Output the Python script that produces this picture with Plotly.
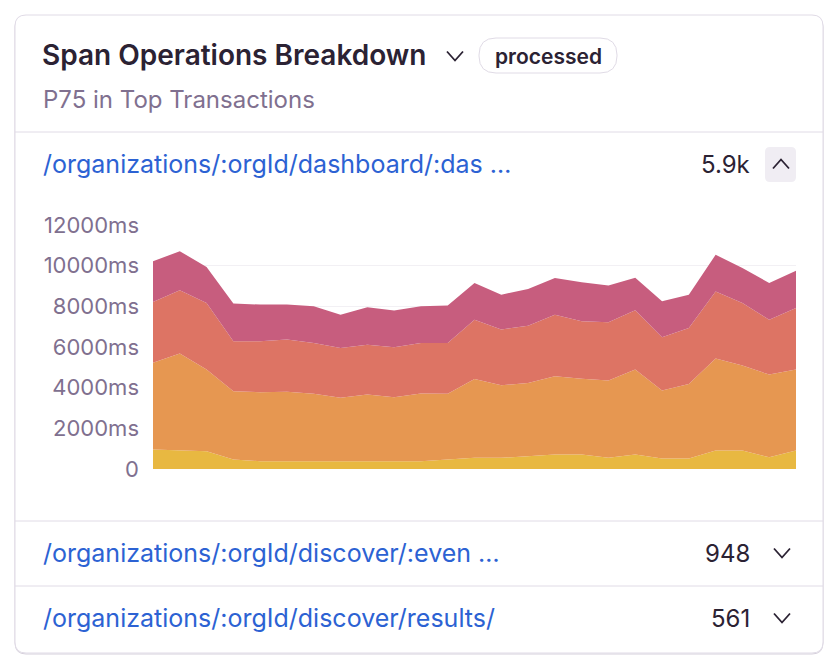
import plotly.graph_objects as go

# time buckets (x) and p75 span op durations in ms, stacked bottom -> top
buckets = list(range(25))
span_ops = ["p75(spans.browser)", "p75(spans.http)", "p75(spans.db)", "p75(spans.resource)"]
browser = [960, 910, 875, 470, 385, 385, 385, 385, 385, 385, 385, 465, 550,
           550, 630, 715, 715, 550, 715, 515, 515, 910, 910, 580, 910]
http = [4260, 4770, 4015, 3355, 3390, 3410, 3310, 3115, 3275, 3145, 3325, 3230, 3880,
        3570, 3605, 3845, 3720, 3800, 4175, 3340, 3670, 4520, 4175, 4065, 3980]
db = [2990, 3110, 3280, 2455, 2505, 2570, 2505, 2455, 2455, 2455, 2490, 2505, 2915,
      2735, 2815, 3030, 2830, 2865, 2915, 2620, 2750, 3305, 3080, 2700, 3030]
resource = [2005, 1920, 1770, 1855, 1805, 1720, 1800, 1635, 1835, 1805, 1800, 1835, 1805,
            1720, 1805, 1805, 1915, 1805, 1595, 1770, 1635, 1805, 1720, 1805, 1835]
series = [browser, http, db, resource]
colors = ["#e8b841", "#e69751", "#dd7464", "#c75d7e"]

y_ticks = [0, 2000, 4000, 6000, 8000, 10000, 12000]
y_ticktext = ["0"] + [f"{v}ms" for v in y_ticks[1:]]

rows = [
    ("/organizations/:orgId/dashboard/:das \u2026", "5.9k"),
    ("/organizations/:orgId/discover/:even \u2026", "948"),
    ("/organizations/:orgId/discover/results/", "561"),
]

FONT = "Inter"
DARK = "#2b2233"
GRAY = "#80708f"
BLUE = "#2c62d3"
BORDER = "#e0dbe6"

# plot area in pixels
L, R, T, B = 153, 796, 225, 469
W, H = R - L, B - T


def px(x):
    return (x - L) / W


def py(y):
    return (B - y) / H


def rrect(x0, y0, x1, y1, r):
    # rounded rectangle path in paper coords
    pts = [
        f"M {px(x0 + r)} {py(y0)}",
        f"L {px(x1 - r)} {py(y0)}",
        f"Q {px(x1)} {py(y0)} {px(x1)} {py(y0 + r)}",
        f"L {px(x1)} {py(y1 - r)}",
        f"Q {px(x1)} {py(y1)} {px(x1 - r)} {py(y1)}",
        f"L {px(x0 + r)} {py(y1)}",
        f"Q {px(x0)} {py(y1)} {px(x0)} {py(y1 - r)}",
        f"L {px(x0)} {py(y0 + r)}",
        f"Q {px(x0)} {py(y0)} {px(x0 + r)} {py(y0)}",
        "Z",
    ]
    return " ".join(pts)


def chevron(cx, cy, up=False, w=8, h=4.5):
    s = -1 if up else 1
    return (f"M {px(cx - w)} {py(cy - s * h)} L {px(cx)} {py(cy + s * h)} "
            f"L {px(cx + w)} {py(cy - s * h)}")


fig = go.Figure()
for name, vals, c in zip(span_ops, series, colors):
    fig.add_trace(go.Scatter(
        x=buckets, y=vals, name=name, mode="lines", stackgroup="one",
        line=dict(width=0, color=c), fillcolor=c, showlegend=False,
    ))

shapes = []
# card shadow + card
shapes.append(dict(type="path", xref="paper", yref="paper", path=rrect(15, 16, 823, 654, 11),
                   line=dict(color="#d6d0dc", width=1), layer="below"))
shapes.append(dict(type="path", xref="paper", yref="paper", path=rrect(15, 15, 823, 653, 11),
                   line=dict(color=BORDER, width=1), fillcolor="white", layer="below"))
# dividers
for yy in [132, 521, 586]:
    shapes.append(dict(type="line", xref="paper", yref="paper", x0=px(15), x1=px(823),
                       y0=py(yy), y1=py(yy), line=dict(color=BORDER, width=1)))
# pill
shapes.append(dict(type="path", xref="paper", yref="paper", path=rrect(479, 38, 617, 73, 17),
                   line=dict(color=BORDER, width=1)))
# expand button
shapes.append(dict(type="path", xref="paper", yref="paper", path=rrect(765, 147, 796, 182, 5),
                   line=dict(width=0), fillcolor="#f0edf3"))
# chevrons
for cx, cy, up in [(455, 56, False), (781, 164, True), (782, 553, False), (782, 618, False)]:
    shapes.append(dict(type="path", xref="paper", yref="paper", path=chevron(cx, cy, up),
                       line=dict(color=DARK, width=1.8)))

ann = []


def text(x, y, s, size, color, anchor="left", bold=False):
    ann.append(dict(x=px(x), y=py(y), xref="paper", yref="paper", text=s, showarrow=False,
                    xanchor=anchor, yanchor="middle",
                    font=dict(family=FONT, size=size, color=color,
                              weight=600 if bold else 400)))


text(40, 55, "Span Operations Breakdown", 28, DARK, bold=True)
text(548, 56, "processed", 21, DARK, anchor="center", bold=True)
text(41, 100, "P75 in Top Transactions", 24, GRAY)
for (label, val), yy in zip(rows, [164, 553, 618]):
    text(41, yy, label, 25, BLUE)
    text(752, yy, val, 24, DARK, anchor="right")

fig.update_layout(
    width=838, height=666, autosize=False,
    margin=dict(l=L, r=838 - R, t=T, b=666 - B),
    paper_bgcolor="white", plot_bgcolor="white",
    font=dict(family=FONT),
    shapes=shapes, annotations=ann,
    xaxis=dict(range=[0, 24], showticklabels=False, showgrid=False, zeroline=False,
               showline=False, fixedrange=True),
    yaxis=dict(range=[0, 12000], tickvals=y_ticks, ticktext=y_ticktext,
               tickfont=dict(family=FONT, size=22, color=GRAY), ticklabelstandoff=13,
               gridcolor="#f2f0f4", zeroline=False, showline=False, fixedrange=True),
    hovermode=False,
)

# page body has a default 8px margin; drop it so the figure sits at 0,0
fig.write_html("out.html", config={"displayModeBar": False},
               post_script="document.body.style.margin='0';")
